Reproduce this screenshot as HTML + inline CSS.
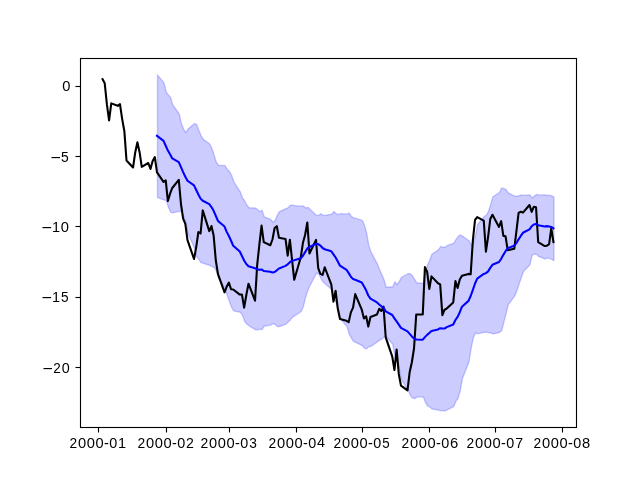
<!DOCTYPE html>
<html lang="en"><head><meta charset="utf-8"><title>Rolling mean and 2-sigma band</title>
<style>
html,body{margin:0;padding:0;background:#fff;width:640px;height:480px;overflow:hidden}
svg{display:block;will-change:transform}
text{font-family:"Liberation Sans",sans-serif;font-size:13.889px;fill:#000}
</style></head><body>
<svg width="640" height="480" viewBox="0 0 640 480">
<rect width="640" height="480" fill="#fff"/>
<path transform="translate(0.5,0.5)" d="M157.00,74.40 L157.00,197.09 L163.54,199.43 L165.72,200.11 L167.89,206.65 L170.07,211.58 L172.25,212.41 L178.79,210.81 L180.96,210.99 L183.14,215.54 L185.32,221.48 L187.50,232.91 L194.03,247.65 L196.21,256.13 L198.39,259.12 L200.57,262.20 L202.75,262.76 L209.28,264.89 L211.46,266.11 L213.64,266.94 L215.82,270.32 L218.00,277.26 L224.53,288.04 L226.71,294.86 L228.89,301.07 L231.07,306.81 L233.24,310.40 L239.78,311.71 L241.96,314.80 L244.14,320.77 L246.31,323.62 L248.49,325.29 L255.03,329.21 L257.21,329.30 L259.38,328.54 L261.56,329.26 L263.74,325.73 L270.27,324.59 L272.45,323.11 L274.63,323.98 L276.81,326.00 L278.99,326.00 L285.52,323.63 L287.70,321.40 L289.88,319.58 L292.06,316.68 L294.24,315.30 L300.77,311.01 L302.95,305.94 L305.13,296.70 L307.31,290.07 L309.48,285.24 L316.02,272.72 L318.20,273.45 L320.38,277.79 L322.55,281.36 L324.73,283.57 L331.27,288.86 L333.45,297.72 L335.62,301.92 L337.80,309.07 L339.98,318.20 L346.52,326.13 L348.69,333.63 L350.87,337.55 L353.05,340.89 L355.23,341.96 L361.76,345.00 L363.94,347.82 L366.12,348.24 L368.30,346.01 L370.48,345.95 L377.01,341.14 L379.19,339.70 L381.37,338.55 L383.55,336.56 L385.73,336.01 L392.26,343.78 L394.44,355.55 L396.62,358.57 L398.79,368.08 L400.97,379.12 L407.51,389.56 L409.69,394.59 L411.86,397.46 L414.04,398.14 L416.22,396.61 L422.76,396.37 L424.93,401.91 L427.11,405.52 L429.29,406.51 L431.47,408.48 L438.00,409.54 L440.18,410.36 L442.36,410.40 L444.54,410.39 L446.72,409.32 L453.25,406.09 L455.43,400.87 L457.61,397.75 L459.79,389.97 L461.97,377.89 L468.50,361.50 L470.68,347.57 L472.86,337.13 L475.04,332.17 L477.21,333.34 L483.75,331.73 L485.93,331.75 L488.11,332.23 L490.28,332.41 L492.46,333.38 L499.00,331.99 L501.18,330.27 L503.35,321.81 L505.53,313.35 L507.71,304.27 L514.25,295.46 L516.42,290.41 L518.60,283.45 L520.78,277.37 L522.96,270.93 L529.49,264.16 L531.67,254.71 L533.85,253.49 L536.03,253.82 L538.21,255.95 L544.74,258.51 L546.92,257.31 L549.10,258.37 L551.28,258.64 L553.45,260.14 L553.45,196.53 L553.45,196.53 L551.28,195.30 L549.10,194.64 L546.92,194.97 L544.74,194.37 L538.21,194.38 L536.03,194.00 L533.85,195.61 L531.67,197.75 L529.49,194.54 L522.96,194.64 L520.78,194.53 L518.60,195.23 L516.42,195.78 L514.25,195.73 L507.71,192.29 L505.53,189.05 L503.35,187.93 L501.18,187.40 L499.00,192.00 L492.46,196.25 L490.28,203.38 L488.11,210.57 L485.93,214.53 L483.75,216.09 L477.21,223.86 L475.04,234.78 L472.86,242.65 L470.68,244.41 L468.50,240.25 L461.97,235.51 L459.79,234.42 L457.61,236.07 L455.43,239.09 L453.25,242.76 L446.72,244.95 L444.54,246.75 L442.36,246.44 L440.18,246.07 L438.00,249.32 L431.47,253.49 L429.29,259.51 L427.11,264.27 L424.93,272.34 L422.76,283.01 L416.22,282.30 L414.04,278.72 L411.86,275.33 L409.69,273.21 L407.51,273.26 L400.97,276.74 L398.79,281.12 L396.62,284.12 L394.44,281.27 L392.26,286.21 L385.73,286.76 L383.55,279.20 L381.37,274.04 L379.19,269.18 L377.01,263.67 L370.48,251.40 L368.30,244.99 L366.12,232.36 L363.94,224.63 L361.76,219.89 L355.23,217.67 L353.05,217.32 L350.87,215.89 L348.69,212.54 L346.52,213.40 L339.98,213.14 L337.80,214.15 L335.62,213.03 L333.45,210.96 L331.27,213.60 L324.73,214.98 L322.55,214.67 L320.38,213.31 L318.20,214.72 L316.02,215.11 L309.48,208.67 L307.31,206.85 L305.13,207.48 L302.95,205.53 L300.77,205.64 L294.24,205.08 L292.06,204.68 L289.88,204.71 L287.70,207.18 L285.52,208.04 L278.99,211.02 L276.81,214.65 L274.63,220.10 L272.45,221.71 L270.27,218.89 L263.74,216.34 L261.56,209.63 L259.38,211.15 L257.21,209.14 L255.03,207.48 L248.49,207.23 L246.31,204.54 L244.14,200.26 L241.96,197.33 L239.78,191.36 L233.24,181.20 L231.07,174.64 L228.89,170.83 L226.71,168.88 L224.53,165.07 L218.00,164.81 L215.82,161.57 L213.64,154.62 L211.46,147.99 L209.28,143.51 L202.75,138.83 L200.57,135.03 L198.39,129.98 L196.21,123.99 L194.03,123.01 L187.50,128.60 L185.32,132.07 L183.14,128.73 L180.96,123.29 L178.79,113.50 L172.25,104.49 L170.07,96.86 L167.89,94.46 L165.72,91.34 L163.54,82.32 L157.00,74.40 Z " fill="#0000ff" fill-opacity="0.2" stroke="#0000ff" stroke-opacity="0.2" stroke-width="1.389" stroke-linejoin="round"/>
<path d="M102.55,79.28 L104.72,83.25 L106.90,104.47 L109.08,120.43 L111.26,103.39 L117.79,105.83 L119.97,104.15 L122.15,118.83 L124.33,130.95 L126.51,160.53 L133.04,167.49 L135.22,152.42 L137.40,142.28 L139.58,152.21 L141.75,166.83 L148.29,163.01 L150.47,168.98 L152.65,161.01 L154.82,157.13 L157.00,172.41 L163.54,181.88 L165.72,180.28 L167.89,201.07 L170.07,193.69 L172.25,188.00 L178.79,179.89 L180.96,204.00 L183.14,218.61 L185.32,223.82 L187.50,240.09 L194.03,258.99 L196.21,247.11 L198.39,231.99 L200.57,233.52 L202.75,210.42 L209.28,231.08 L211.46,226.06 L213.64,235.54 L215.82,260.52 L218.00,274.14 L224.53,292.34 L226.71,286.52 L228.89,282.63 L231.07,289.27 L233.24,289.46 L239.78,294.56 L241.96,294.65 L244.14,307.62 L246.31,295.03 L248.49,283.71 L255.03,300.67 L257.21,264.60 L259.38,244.48 L261.56,225.64 L263.74,242.09 L270.27,245.27 L272.45,239.50 L274.63,228.06 L276.81,226.20 L278.99,237.83 L285.52,238.91 L287.70,255.60 L289.88,239.72 L292.06,259.91 L294.24,279.79 L300.77,257.18 L302.95,242.79 L305.13,234.78 L307.31,222.46 L309.48,253.55 L316.02,239.85 L318.20,268.06 L320.38,273.83 L322.55,274.93 L324.73,267.26 L331.27,284.40 L333.45,301.64 L335.62,290.82 L337.80,308.83 L339.98,319.06 L346.52,320.77 L348.69,322.14 L350.87,312.36 L353.05,307.56 L355.23,294.07 L361.76,309.68 L363.94,318.39 L366.12,316.29 L368.30,326.58 L370.48,316.91 L377.01,314.43 L379.19,308.76 L381.37,310.94 L383.55,306.70 L385.73,337.35 L392.26,356.60 L394.44,370.02 L396.62,349.45 L398.79,373.96 L400.97,385.58 L407.51,390.43 L409.69,371.96 L411.86,362.25 L414.04,348.25 L416.22,314.56 L422.76,314.35 L424.93,267.15 L427.11,271.61 L429.29,288.99 L431.47,276.40 L438.00,283.25 L440.18,284.41 L442.36,315.09 L444.54,309.75 L446.72,308.55 L453.25,302.47 L455.43,281.11 L457.61,288.05 L459.79,279.61 L461.97,275.76 L468.50,273.89 L470.68,274.22 L472.86,240.34 L475.04,219.95 L477.21,217.05 L483.75,220.59 L485.93,251.71 L488.11,236.76 L490.28,218.96 L492.46,214.75 L499.00,226.90 L501.18,221.16 L503.35,235.89 L505.53,236.26 L507.71,250.15 L514.25,248.83 L516.42,231.08 L518.60,212.94 L520.78,211.78 L522.96,212.57 L529.49,205.02 L531.67,211.91 L533.85,206.72 L536.03,207.20 L538.21,242.13 L544.74,246.08 L546.92,245.65 L549.10,244.12 L551.28,228.29 L553.45,242.03" fill="none" stroke="#000" stroke-width="2.083" stroke-linejoin="round" stroke-linecap="square"/>
<path d="M157.00,135.74 L163.54,140.87 L165.72,145.72 L167.89,150.56 L170.07,154.22 L172.25,158.45 L178.79,162.15 L180.96,167.14 L183.14,172.13 L185.32,176.78 L187.50,180.75 L194.03,185.33 L196.21,190.06 L198.39,194.55 L200.57,198.62 L202.75,200.79 L209.28,204.20 L211.46,207.05 L213.64,210.78 L215.82,215.95 L218.00,221.03 L224.53,226.56 L226.71,231.87 L228.89,235.95 L231.07,240.73 L233.24,245.80 L239.78,251.53 L241.96,256.07 L244.14,260.52 L246.31,264.08 L248.49,266.26 L255.03,268.34 L257.21,269.22 L259.38,269.84 L261.56,269.45 L263.74,271.03 L270.27,271.74 L272.45,272.41 L274.63,272.04 L276.81,270.32 L278.99,268.51 L285.52,265.84 L287.70,264.29 L289.88,262.14 L292.06,260.68 L294.24,260.19 L300.77,258.32 L302.95,255.73 L305.13,252.09 L307.31,248.46 L309.48,246.95 L316.02,243.91 L318.20,244.08 L320.38,245.55 L322.55,248.02 L324.73,249.27 L331.27,251.23 L333.45,254.34 L335.62,257.48 L337.80,261.61 L339.98,265.67 L346.52,269.76 L348.69,273.09 L350.87,276.72 L353.05,279.10 L355.23,279.82 L361.76,282.44 L363.94,286.22 L366.12,290.30 L368.30,295.50 L370.48,298.67 L377.01,302.40 L379.19,304.44 L381.37,306.29 L383.55,307.88 L385.73,311.38 L392.26,314.99 L394.44,318.41 L396.62,321.34 L398.79,324.60 L400.97,327.93 L407.51,331.41 L409.69,333.90 L411.86,336.40 L414.04,338.43 L416.22,339.45 L422.76,339.69 L424.93,337.13 L427.11,334.89 L429.29,333.01 L431.47,330.99 L438.00,329.43 L440.18,328.21 L442.36,328.42 L444.54,328.57 L446.72,327.13 L453.25,324.42 L455.43,319.98 L457.61,316.91 L459.79,312.19 L461.97,306.70 L468.50,300.87 L470.68,295.99 L472.86,289.89 L475.04,283.48 L477.21,278.60 L483.75,273.91 L485.93,273.14 L488.11,271.40 L490.28,267.90 L492.46,264.81 L499.00,262.00 L501.18,258.83 L503.35,254.87 L505.53,251.20 L507.71,248.28 L514.25,245.60 L516.42,243.10 L518.60,239.34 L520.78,235.95 L522.96,232.79 L529.49,229.35 L531.67,226.23 L533.85,224.55 L536.03,223.91 L538.21,225.17 L544.74,226.44 L546.92,226.14 L549.10,226.51 L551.28,226.97 L553.45,228.34" fill="none" stroke="#0000ff" stroke-width="2.083" stroke-linejoin="round" stroke-linecap="square"/>
<path d="M79.944,57.000h497.111v1.000h-497.111z M79.944,59.000h497.111v1.000h-497.111z M79.944,426.000h497.111v1.000h-497.111z M79.944,428.000h497.111v1.000h-497.111z M75.500,366.000h5.000v1.000h-5.000z M75.500,368.000h5.000v1.000h-5.000z M75.500,296.000h5.000v1.000h-5.000z M75.500,298.000h5.000v1.000h-5.000z M75.500,225.000h5.000v1.000h-5.000z M75.500,227.000h5.000v1.000h-5.000z M75.500,155.000h5.000v1.000h-5.000z M75.500,157.000h5.000v1.000h-5.000z M75.500,85.000h5.000v1.000h-5.000z M75.500,87.000h5.000v1.000h-5.000z" fill="#000" fill-opacity="0.0556"/>
<path d="M79.944,57.944h1.111v370.111h-1.111z M575.944,57.944h1.111v370.111h-1.111z M97.944,427.500h1.111v5.000h-1.111z M165.944,427.500h1.111v5.000h-1.111z M228.944,427.500h1.111v5.000h-1.111z M295.944,427.500h1.111v5.000h-1.111z M361.944,427.500h1.111v5.000h-1.111z M428.944,427.500h1.111v5.000h-1.111z M494.944,427.500h1.111v5.000h-1.111z M561.944,427.500h1.111v5.000h-1.111z M79.944,58.000h497.111v1.000h-497.111z M79.944,427.000h497.111v1.000h-497.111z M75.500,367.000h5.000v1.000h-5.000z M75.500,297.000h5.000v1.000h-5.000z M75.500,226.000h5.000v1.000h-5.000z M75.500,156.000h5.000v1.000h-5.000z M75.500,86.000h5.000v1.000h-5.000z" fill="#000"/>
<g>
<text transform="matrix(1.0436,0,0,1.0562,0,0)"><tspan x="66.599" y="424.311" font-size="14.349" textLength="7.321" lengthAdjust="spacingAndGlyphs">2</tspan><tspan x="74.728" y="424.346" font-size="14.096" textLength="7.842" lengthAdjust="spacingAndGlyphs">0</tspan><tspan x="83.134" y="424.327" font-size="14.312" textLength="7.848" lengthAdjust="spacingAndGlyphs">0</tspan><tspan x="91.543" y="424.283" font-size="14.196" textLength="7.826" lengthAdjust="spacingAndGlyphs">0</tspan><tspan x="99.643" y="424.485" font-size="13.256" textLength="4.667" lengthAdjust="spacingAndGlyphs">-</tspan><tspan x="104.630" y="424.359" font-size="13.712" textLength="7.656" lengthAdjust="spacingAndGlyphs">0</tspan><tspan x="113.106" y="424.408" font-size="13.380" textLength="7.729" lengthAdjust="spacingAndGlyphs">1</tspan></text>
<text transform="matrix(1.0394,0,0,1.0671,0,0)"><tspan x="132.290" y="419.988" font-size="14.398" textLength="7.418" lengthAdjust="spacingAndGlyphs">2</tspan><tspan x="140.453" y="420.024" font-size="14.070" textLength="7.874" lengthAdjust="spacingAndGlyphs">0</tspan><tspan x="148.893" y="420.004" font-size="14.283" textLength="7.880" lengthAdjust="spacingAndGlyphs">0</tspan><tspan x="157.336" y="419.961" font-size="14.200" textLength="7.858" lengthAdjust="spacingAndGlyphs">0</tspan><tspan x="165.468" y="419.692" font-size="13.551" textLength="4.686" lengthAdjust="spacingAndGlyphs">-</tspan><tspan x="170.476" y="419.568" font-size="13.572" textLength="7.687" lengthAdjust="spacingAndGlyphs">0</tspan><tspan x="179.004" y="419.930" font-size="14.234" textLength="7.568" lengthAdjust="spacingAndGlyphs">2</tspan></text>
<text transform="matrix(1.0353,0,0,1.0662,0,0)"><tspan x="193.658" y="420.327" font-size="14.215" textLength="7.460" lengthAdjust="spacingAndGlyphs">2</tspan><tspan x="201.852" y="420.362" font-size="13.776" textLength="7.865" lengthAdjust="spacingAndGlyphs">0</tspan><tspan x="210.325" y="420.342" font-size="14.177" textLength="7.870" lengthAdjust="spacingAndGlyphs">0</tspan><tspan x="218.801" y="420.299" font-size="14.071" textLength="7.889" lengthAdjust="spacingAndGlyphs">0</tspan><tspan x="226.965" y="420.030" font-size="12.913" textLength="4.704" lengthAdjust="spacingAndGlyphs">-</tspan><tspan x="231.992" y="419.906" font-size="13.701" textLength="7.717" lengthAdjust="spacingAndGlyphs">0</tspan><tspan x="240.778" y="420.045" font-size="14.159" textLength="7.359" lengthAdjust="spacingAndGlyphs">3</tspan></text>
<text transform="matrix(1.0417,0,0,1.0622,0,0)"><tspan x="257.744" y="421.922" font-size="14.394" textLength="7.361" lengthAdjust="spacingAndGlyphs">2</tspan><tspan x="265.888" y="421.957" font-size="14.017" textLength="7.856" lengthAdjust="spacingAndGlyphs">0</tspan><tspan x="274.309" y="421.938" font-size="14.231" textLength="7.862" lengthAdjust="spacingAndGlyphs">0</tspan><tspan x="282.733" y="421.894" font-size="14.195" textLength="7.880" lengthAdjust="spacingAndGlyphs">0</tspan><tspan x="290.848" y="421.624" font-size="13.425" textLength="4.585" lengthAdjust="spacingAndGlyphs">-</tspan><tspan x="295.844" y="421.499" font-size="13.635" textLength="7.670" lengthAdjust="spacingAndGlyphs">0</tspan><tspan x="304.417" y="420.688" textLength="7.740" lengthAdjust="spacingAndGlyphs">4</tspan></text>
<text transform="matrix(1.0307,0,0,1.0663,0,0)"><tspan x="323.572" y="420.280" font-size="14.408" textLength="7.453" lengthAdjust="spacingAndGlyphs">2</tspan><tspan x="331.803" y="420.316" font-size="13.775" textLength="7.900" lengthAdjust="spacingAndGlyphs">0</tspan><tspan x="340.314" y="420.296" font-size="14.176" textLength="7.906" lengthAdjust="spacingAndGlyphs">0</tspan><tspan x="348.829" y="420.253" font-size="14.061" textLength="7.924" lengthAdjust="spacingAndGlyphs">0</tspan><tspan x="357.030" y="419.984" font-size="13.365" textLength="4.726" lengthAdjust="spacingAndGlyphs">-</tspan><tspan x="362.079" y="419.860" font-size="13.582" textLength="7.752" lengthAdjust="spacingAndGlyphs">0</tspan><tspan x="370.960" y="419.997" font-size="14.051" textLength="7.175" lengthAdjust="spacingAndGlyphs">5</tspan></text>
<text transform="matrix(1.0463,0,0,1.0603,0,0)"><tspan x="383.736" y="422.685" font-size="14.483" textLength="7.342" lengthAdjust="spacingAndGlyphs">2</tspan><tspan x="391.845" y="422.721" textLength="7.822" lengthAdjust="spacingAndGlyphs">0</tspan><tspan x="400.229" y="422.701" font-size="14.375" textLength="7.828" lengthAdjust="spacingAndGlyphs">0</tspan><tspan x="408.616" y="422.658" font-size="14.142" textLength="7.806" lengthAdjust="spacingAndGlyphs">0</tspan><tspan x="416.695" y="422.387" font-size="13.056" textLength="4.655" lengthAdjust="spacingAndGlyphs">-</tspan><tspan x="421.669" y="422.262" font-size="13.589" textLength="7.636" lengthAdjust="spacingAndGlyphs">0</tspan><tspan x="430.059" y="422.789" font-size="13.693" textLength="7.875" lengthAdjust="spacingAndGlyphs">6</tspan></text>
<text transform="matrix(1.0393,0,0,1.0555,0,0)"><tspan x="448.866" y="424.585" font-size="14.556" textLength="7.378" lengthAdjust="spacingAndGlyphs">2</tspan><tspan x="457.029" y="424.621" textLength="7.875" lengthAdjust="spacingAndGlyphs">0</tspan><tspan x="465.470" y="424.602" font-size="14.321" textLength="7.880" lengthAdjust="spacingAndGlyphs">0</tspan><tspan x="473.913" y="424.558" font-size="14.284" textLength="7.899" lengthAdjust="spacingAndGlyphs">0</tspan><tspan x="482.047" y="424.760" font-size="13.509" textLength="4.662" lengthAdjust="spacingAndGlyphs">-</tspan><tspan x="487.054" y="424.634" font-size="13.721" textLength="7.688" lengthAdjust="spacingAndGlyphs">0</tspan><tspan x="495.759" y="424.644" font-size="13.238" textLength="7.604" lengthAdjust="spacingAndGlyphs">7</tspan></text>
<text transform="matrix(1.0455,0,0,1.0534,0,0)"><tspan x="510.307" y="425.428" font-size="14.387" textLength="7.308" lengthAdjust="spacingAndGlyphs">2</tspan><tspan x="518.422" y="425.464" textLength="7.828" lengthAdjust="spacingAndGlyphs">0</tspan><tspan x="526.813" y="425.444" font-size="14.349" textLength="7.794" lengthAdjust="spacingAndGlyphs">0</tspan><tspan x="535.207" y="425.400" font-size="13.988" textLength="7.812" lengthAdjust="spacingAndGlyphs">0</tspan><tspan x="543.293" y="425.603" font-size="13.338" textLength="4.659" lengthAdjust="spacingAndGlyphs">-</tspan><tspan x="548.271" y="425.477" font-size="13.748" textLength="7.642" lengthAdjust="spacingAndGlyphs">0</tspan><tspan x="556.653" y="424.962" font-size="13.151" textLength="7.838" lengthAdjust="spacingAndGlyphs">8</tspan></text>
<text transform="matrix(1.0080,0,0,1.0745,0,0)"><tspan x="42.182" y="347.849" font-size="15.210" textLength="10.176" lengthAdjust="spacingAndGlyphs">−</tspan><tspan x="52.788" y="347.284" textLength="7.445" lengthAdjust="spacingAndGlyphs">2</tspan><tspan x="61.255" y="347.285" textLength="7.921" lengthAdjust="spacingAndGlyphs">0</tspan></text>
<text transform="matrix(1.0127,0,0,1.0482,0,0)"><tspan x="40.957" y="288.855" font-size="15.535" textLength="10.247" lengthAdjust="spacingAndGlyphs">−</tspan><tspan x="51.382" y="288.369" font-size="13.673" textLength="7.964" lengthAdjust="spacingAndGlyphs">1</tspan><tspan x="60.301" y="288.171" font-size="14.503" textLength="7.485" lengthAdjust="spacingAndGlyphs">5</tspan></text>
<text transform="matrix(1.0540,0,0,1.0526,0,0)"><tspan x="39.353" y="221.137" font-size="15.469" textLength="9.859" lengthAdjust="spacingAndGlyphs">−</tspan><tspan x="49.369" y="220.653" font-size="13.615" textLength="7.639" lengthAdjust="spacingAndGlyphs">1</tspan><tspan x="57.643" y="220.571" font-size="14.479" textLength="7.770" lengthAdjust="spacingAndGlyphs">0</tspan></text>
<text transform="matrix(0.9978,0,0,1.0813,0,0)"><tspan x="50.629" y="150.529" font-size="15.114" textLength="10.279" lengthAdjust="spacingAndGlyphs">−</tspan><tspan x="61.175" y="149.724" textLength="7.724" lengthAdjust="spacingAndGlyphs">5</tspan></text>
<text transform="matrix(1.0572,0,0,1.0800,0,0)"><tspan x="58.885" y="84.435" textLength="7.724" lengthAdjust="spacingAndGlyphs">0</tspan></text>
</g>
</svg>
</body></html>
